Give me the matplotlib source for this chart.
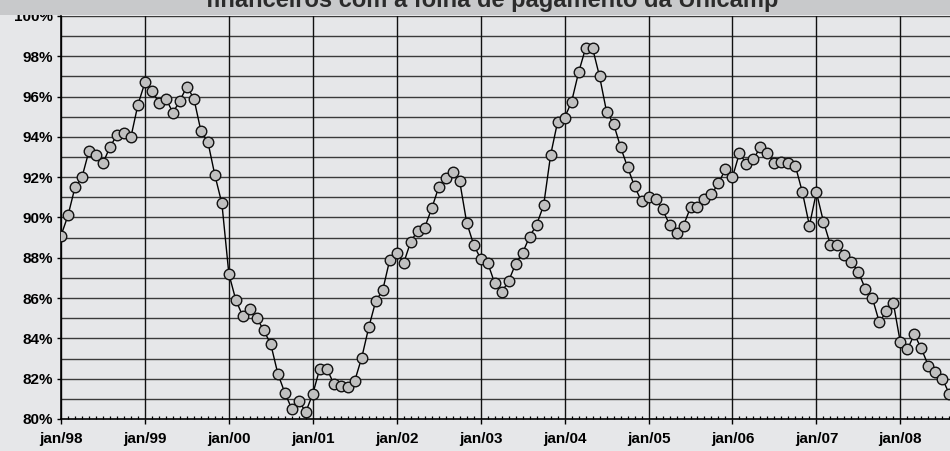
import matplotlib
matplotlib.use("Agg")
import matplotlib.pyplot as plt
from matplotlib.ticker import MultipleLocator, FixedLocator, FuncFormatter

# Monthly values, jan/1998 .. aug/2008 (%)
values = [
    89.1, 90.1, 91.5, 92.0, 93.3, 93.1, 92.7, 93.5, 94.1, 94.2, 94.0, 95.6,   # 1998
    96.7, 96.3, 95.7, 95.9, 95.2, 95.8, 96.5, 95.9, 94.3, 93.75, 92.1, 90.7,  # 1999
    87.2, 85.9, 85.1, 85.45, 85.0, 84.4, 83.7, 82.25, 81.3, 80.5, 80.9, 80.35,  # 2000
    81.25, 82.5, 82.5, 81.75, 81.65, 81.6, 81.9, 83.05, 84.55, 85.85, 86.4, 87.9,  # 2001
    88.25, 87.75, 88.8, 89.35, 89.5, 90.45, 91.5, 91.95, 92.25, 91.8, 89.75, 88.65,  # 2002
    87.95, 87.75, 86.75, 86.3, 86.85, 87.7, 88.25, 89.05, 89.65, 90.6, 93.1, 94.75,  # 2003
    94.95, 95.75, 97.2, 98.4, 98.4, 97.0, 95.25, 94.65, 93.5, 92.5, 91.55, 90.8,  # 2004
    91.0, 90.9, 90.4, 89.65, 89.25, 89.6, 90.5, 90.5, 90.9, 91.15, 91.7, 92.4,  # 2005
    92.0, 93.2, 92.65, 92.9, 93.5, 93.2, 92.7, 92.75, 92.7, 92.55, 91.25, 89.6,  # 2006
    91.25, 89.8, 88.65, 88.65, 88.15, 87.8, 87.3, 86.45, 86.0, 84.8, 85.35, 85.75,  # 2007
    83.8, 83.45, 84.2, 83.5, 82.65, 82.35, 82.0, 81.25,  # 2008
]
year_labels = ["jan/98", "jan/99", "jan/00", "jan/01", "jan/02", "jan/03",
               "jan/04", "jan/05", "jan/06", "jan/07", "jan/08"]
title = "financeiros com a folha de pagamento da Unicamp"

plt.rcParams['font.family'] = ['Liberation Sans', 'DejaVu Sans']

W, H = 950, 451
fig = plt.figure(figsize=(W / 100, H / 100), dpi=100)
bg = "#e6e7e9"
fig.patch.set_facecolor(bg)

# title band
band = plt.Rectangle((0, 1 - 15 / H), 1, 15 / H, transform=fig.transFigure,
                     facecolor="#c8c9cb", edgecolor="none", zorder=0)
fig.patches.append(band)
fig.text(492 / W, 1 - 6.5 / H, title, ha="center", va="baseline",
         fontsize=17, fontweight="bold", color="#2b2b2b")

ax = fig.add_axes([61 / W, 1 - 419 / H, 1 - 61 / W, (419 - 16) / H])
ax.set_facecolor(bg)

x = list(range(len(values)))
ax.set_xlim(0, 127.1)
ax.set_ylim(80, 100)

for v in range(81, 101):
    ax.axhline(v, color="#3a3a3a", lw=1.0, zorder=1)
for i in range(len(year_labels)):
    ax.axvline(i * 12, color="#111111", lw=1.0, zorder=1)

ax.plot(x, values, color="black", lw=1.0, marker="o", markersize=7.6,
        markerfacecolor="#c0c0c0", markeredgecolor="#111111",
        markeredgewidth=1.0, zorder=3, clip_on=True)

ax.xaxis.set_major_locator(FixedLocator([i * 12 for i in range(len(year_labels))]))
ax.set_xticklabels(year_labels)
ax.xaxis.set_minor_locator(MultipleLocator(1))
ax.tick_params(axis="x", which="major", direction="out", length=3.5, width=1,
               pad=6, labelsize=11)
ax.tick_params(axis="x", which="minor", direction="in", length=2.5, width=0.9)

ax.yaxis.set_major_locator(MultipleLocator(2))
ax.yaxis.set_major_formatter(FuncFormatter(lambda v, p: f"{v:.0f}%"))
ax.tick_params(axis="y", which="major", direction="out", length=3, width=1,
               pad=3, labelsize=11)

for lab in ax.get_xticklabels() + ax.get_yticklabels():
    lab.set_fontweight("bold")

for s in ["top", "right"]:
    ax.spines[s].set_visible(False)
ax.spines["left"].set_linewidth(1.2)
ax.spines["bottom"].set_linewidth(1.2)

fig.savefig("out.png", dpi=100, facecolor=bg)
